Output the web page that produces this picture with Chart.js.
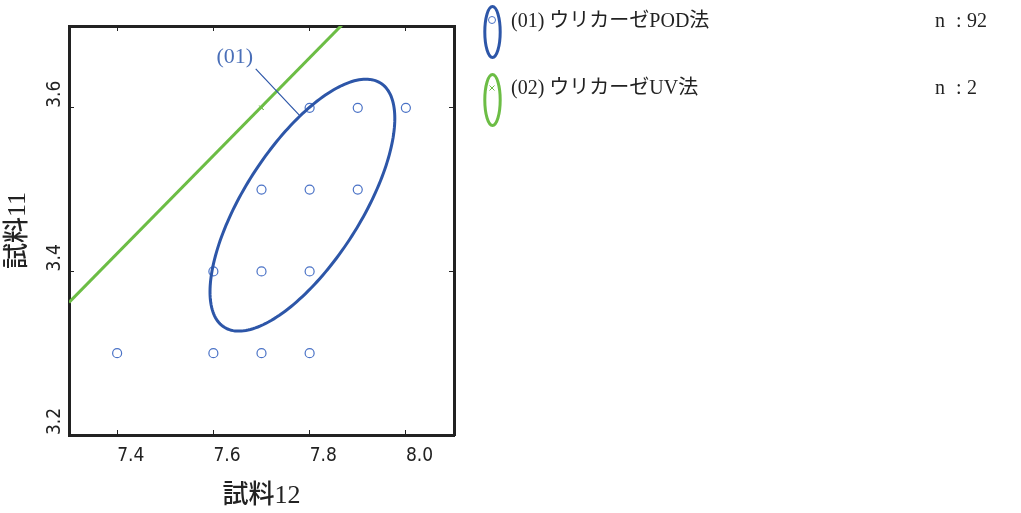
<!DOCTYPE html>
<html>
<head>
<meta charset="utf-8">
<script src="https://cdn.jsdelivr.net/npm/chart.js@4.4.1/dist/chart.umd.min.js"></script>
<style>
  html, body { margin: 0; padding: 0; background: #fff; }
  #wrap { width: 1021px; height: 513px; }
</style>
</head>
<body>
<div id="wrap"><canvas id="chart" width="1021" height="513"></canvas></div>
<script>
// tick labels
const xTicks = [7.4, 7.6, 7.8, 8.0];
const yTicks = [3.2, 3.4, 3.6];

// (01) POD points
const podX = [7.8, 7.9, 8.0, 7.7, 7.8, 7.9, 7.6, 7.7, 7.8, 7.4, 7.6, 7.7, 7.8];
const podY = [3.6, 3.6, 3.6, 3.5, 3.5, 3.5, 3.4, 3.4, 3.4, 3.3, 3.3, 3.3, 3.3];
// (02) UV points and its line
const uvX = [7.7, 7.7];
const uvY = [3.6, 3.6];
const uvLineX = [7.3, 7.87];
const uvLineY = [3.362, 3.703];
// POD ellipse: centre x, centre y, half width, half height, correlation
const podEllipse = [7.785, 3.481, 0.192, 0.154, 0.688];
// label "(01)" and its leader line
const labelPos = [7.6445, 3.662];
const leaderX = [7.688, 7.779];
const leaderY = [3.6476, 3.5907];

const seriesNames = ['(01) ウリカーゼPOD法', '(02) ウリカーゼUV法'];
const seriesN = [92, 2];

const BLUE = '#2d56a8';
const BLUE_PT = '#4a72c6';
const GREEN = '#6cbd45';
const INK = '#222';
const tickFont = '"Liberation Sans Narrow", "DejaVu Sans Condensed", sans-serif';
const serifJa = '"Liberation Serif", "Noto Sans CJK JP", serif';

function toPts(xs, ys) {
    return xs.map(function (x, i) { return { x: x, y: ys[i] }; });
}

// ellipse outline, drawn in data space through the scales
const ellipsePlugin = {
    id: 'ellipse',
    afterDatasetsDraw(chart) {
        const ctx = chart.ctx, xs = chart.scales.x, ys = chart.scales.y, a = chart.chartArea;
        const [cx, cy, hx, hy, rho] = podEllipse;
        const d = Math.acos(rho);
        ctx.save();
        ctx.beginPath();
        ctx.rect(a.left, a.top, a.right - a.left, a.bottom - a.top);
        ctx.clip();
        ctx.beginPath();
        for (let i = 0; i <= 200; i++) {
            const t = i / 200 * Math.PI * 2;
            const px = xs.getPixelForValue(cx + hx * Math.cos(t));
            const py = ys.getPixelForValue(cy + hy * Math.cos(t - d));
            if (i === 0) ctx.moveTo(px, py); else ctx.lineTo(px, py);
        }
        ctx.closePath();
        ctx.strokeStyle = BLUE;
        ctx.lineWidth = 3;
        ctx.stroke();

        // leader + label
        ctx.beginPath();
        ctx.moveTo(xs.getPixelForValue(leaderX[0]), ys.getPixelForValue(leaderY[0]));
        ctx.lineTo(xs.getPixelForValue(leaderX[1]), ys.getPixelForValue(leaderY[1]));
        ctx.strokeStyle = BLUE;
        ctx.lineWidth = 1.2;
        ctx.stroke();
        ctx.fillStyle = '#4a6fb8';
        ctx.font = '22px "Liberation Serif", serif';
        ctx.textAlign = 'center';
        ctx.textBaseline = 'middle';
        ctx.fillText('(01)', xs.getPixelForValue(labelPos[0]), ys.getPixelForValue(labelPos[1]));
        ctx.restore();
    }
};

// rotated y tick labels, starting at the tick and reading upwards
const yLabelPlugin = {
    id: 'yLabels',
    afterDraw(chart) {
        const ctx = chart.ctx, s = chart.scales.y;
        ctx.save();
        ctx.font = '19px ' + tickFont;
        ctx.fillStyle = INK;
        ctx.textAlign = 'left';
        ctx.textBaseline = 'middle';
        s.ticks.forEach(function (t) {
            const py = s.getPixelForValue(t.value);
            ctx.save();
            ctx.translate(55, py);
            ctx.rotate(-Math.PI / 2);
            ctx.fillText(t.value.toFixed(1), 0, 0);
            ctx.restore();
        });
        ctx.restore();
    }
};

// legend on the right
const legendPlugin = {
    id: 'sideLegend',
    afterDraw(chart) {
        const ctx = chart.ctx;
        const colors = [BLUE, GREEN];
        const rowY = [22, 89];
        const iconY = [32, 100];
        ctx.save();
        for (let i = 0; i < seriesNames.length; i++) {
            ctx.beginPath();
            ctx.ellipse(492.5, iconY[i], 7.7, 25.5, 0, 0, Math.PI * 2);
            ctx.strokeStyle = colors[i];
            ctx.lineWidth = 3;
            ctx.stroke();

            ctx.lineWidth = 1;
            if (i === 0) {
                ctx.beginPath();
                ctx.arc(492, 20, 3.5, 0, Math.PI * 2);
                ctx.strokeStyle = BLUE_PT;
                ctx.stroke();
            } else {
                ctx.beginPath();
                ctx.moveTo(489.5, 85.5); ctx.lineTo(494.5, 90.5);
                ctx.moveTo(494.5, 85.5); ctx.lineTo(489.5, 90.5);
                ctx.strokeStyle = GREEN;
                ctx.stroke();
            }

            ctx.fillStyle = INK;
            ctx.font = '20px ' + serifJa;
            ctx.textAlign = 'left';
            ctx.textBaseline = 'middle';
            ctx.fillText(seriesNames[i], 511, rowY[i]);
            ctx.fillText('n', 935, rowY[i]);
            ctx.fillText(':', 956, rowY[i]);
            ctx.fillText(String(seriesN[i]), 967, rowY[i]);
        }
        ctx.restore();
    }
};

function frameAxis(pos, ticks) {
    const horiz = pos === 'top' || pos === 'bottom';
    return {
        type: 'linear',
        position: pos,
        min: horiz ? 7.3 : 3.2,
        max: horiz ? 8.1 : 3.7,
        afterBuildTicks: function (s) { s.ticks = ticks.map(function (v) { return { value: v }; }); },
        afterFit: function (s) { if (horiz) s.height = 0; else s.width = 0; },
        border: { display: true, color: INK, width: 3 },
        grid: { display: true, drawOnChartArea: false, drawTicks: true, tickLength: -5, tickColor: INK, tickWidth: 1 },
        ticks: { display: false }
    };
}

const ctx = document.getElementById('chart').getContext('2d');
new Chart(ctx, {
    type: 'scatter',
    data: {
        datasets: [
            {
                label: seriesNames[1] + ' line',
                data: toPts(uvLineX, uvLineY),
                showLine: true,
                borderColor: GREEN,
                borderWidth: 3,
                pointRadius: 0
            },
            {
                label: seriesNames[0],
                data: toPts(podX, podY),
                pointStyle: 'circle',
                pointRadius: 4.5,
                borderColor: BLUE_PT,
                borderWidth: 1.2,
                backgroundColor: 'rgba(0,0,0,0)'
            },
            {
                label: seriesNames[1],
                data: toPts(uvX, uvY),
                pointStyle: 'crossRot',
                pointRadius: 3,
                borderColor: GREEN,
                borderWidth: 1
            }
        ]
    },
    options: {
        responsive: false,
        animation: false,
        devicePixelRatio: 1,
        layout: { padding: { left: 0, top: 26, right: 567, bottom: 0 } },
        plugins: { legend: { display: false }, tooltip: { enabled: false } },
        scales: {
            x: {
                type: 'linear',
                position: 'bottom',
                min: 7.3,
                max: 8.1,
                afterBuildTicks: function (s) { s.ticks = xTicks.map(function (v) { return { value: v }; }); },
                afterFit: function (s) { s.height = 78; },
                border: { display: true, color: INK, width: 3 },
                grid: { display: true, drawOnChartArea: false, drawTicks: true, tickLength: -5, tickColor: INK, tickWidth: 1 },
                ticks: {
                    align: 'start',
                    padding: 15,
                    color: INK,
                    font: { family: tickFont, size: 19 },
                    callback: function (v) { return v.toFixed(1); }
                },
                title: {
                    display: true,
                    text: '試料12',
                    color: INK,
                    font: { family: serifJa, size: 26, weight: '500' },
                    padding: { top: 0, bottom: 1 }
                }
            },
            y: {
                type: 'linear',
                position: 'left',
                min: 3.2,
                max: 3.7,
                afterBuildTicks: function (s) { s.ticks = yTicks.map(function (v) { return { value: v }; }); },
                afterFit: function (s) { s.width = 69; },
                border: { display: true, color: INK, width: 3 },
                grid: { display: true, drawOnChartArea: false, drawTicks: true, tickLength: -5, tickColor: INK, tickWidth: 1 },
                ticks: { display: false },
                title: {
                    display: true,
                    text: '試料11',
                    color: INK,
                    font: { family: serifJa, size: 26, weight: '500' },
                    padding: { top: 3, bottom: 0 }
                }
            },
            x2: frameAxis('top', xTicks),
            y2: frameAxis('right', yTicks)
        }
    },
    plugins: [ellipsePlugin, yLabelPlugin, legendPlugin]
});
</script>
</body>
</html>
